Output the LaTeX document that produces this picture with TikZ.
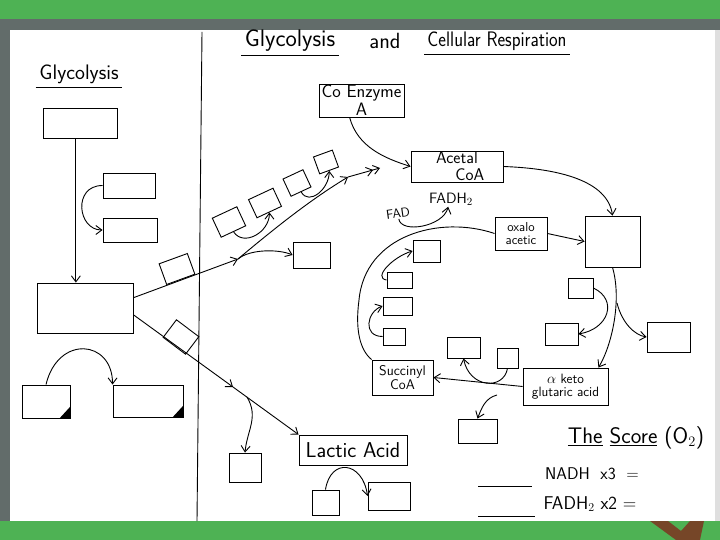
\documentclass[tikz,border=0pt]{standalone}
\usepackage{tikz}
\usetikzlibrary{arrows.meta}
\usetikzlibrary{calc}

\definecolor{leaf}{RGB}{78,178,84}
\definecolor{paperedge}{RGB}{98,108,106}
\definecolor{skin}{RGB}{118,70,40}

\begin{document}
\begin{tikzpicture}[x=1pt, y=-1pt, line width=0.9pt,
  >={Straight Barb[length=6pt,width=9pt]},
  box/.style={draw, inner sep=1pt, align=center, font=\sffamily\fontsize{11}{12}\selectfont},
  hand/.style={font=\sffamily\fontsize{#1}{#1}\selectfont}]
\useasboundingbox (0,0) rectangle (720,540);
\fill[leaf] (0,0) rectangle (720,540);
\fill[paperedge] (0,19) rectangle (720,30);
\fill[paperedge] (0,19) rectangle (10,521);
\fill[white] (10,30) rectangle (720,521);
\fill[gray!25] (715,30) rectangle (720,521);
\fill[skin] (650,521) -- (668,521) -- (681,531) -- (690,521) -- (704,521) -- (700,540) -- (676,540) -- cycle;
\draw (202,32) -- (197,521);

\node[hand=24] (head1) at (290,41) {Glycolysis};
\node[hand=22] (head2) at (385,41) {and};
\node[hand=21, xscale=0.87] (head3) at (497,41) {Cellular Respiration};
\draw (head1.south west) -- (head1.south east);
\draw (head3.south west) -- (head3.south east);
\node[hand=21] (gly) at (79,74) {Glycolysis};
\draw (gly.south west) -- (gly.south east);

\node[box, minimum width=74pt, minimum height=30pt] (g1) at (80,123) {};
\node[box, minimum width=52pt, minimum height=25pt] (g2) at (129,185.5) {};
\node[box, minimum width=54pt, minimum height=24pt] (g3) at (130,230) {};
\node[box, minimum width=96pt, minimum height=50pt] (pyr) at (85,308) {};
\node[box, minimum width=48pt, minimum height=33pt] (l1) at (46,401.5) {};
\node[box, minimum width=70pt, minimum height=32pt] (l2) at (148,401) {};
\fill (l1.south east) -- ++(-11,0) -- ++(11,-12) -- cycle;
\fill (l2.south east) -- ++(-11,0) -- ++(11,-12) -- cycle;

\node[box, minimum width=30pt, minimum height=22pt, rotate=20] (t1) at (177,269) {};
\node[box, minimum width=28pt, minimum height=22pt, rotate=-37] (t2) at (181,337) {};
\node[box, minimum width=27pt, minimum height=21pt, rotate=25] (a1) at (229,222) {};
\node[box, minimum width=27pt, minimum height=20pt, rotate=25] (a2) at (265,203) {};
\node[box, minimum width=22pt, minimum height=19pt, rotate=25] (a3) at (297,183) {};
\node[box, minimum width=20pt, minimum height=18pt, rotate=20] (a4) at (326,162) {};
\node[box, minimum width=37pt, minimum height=26pt] (b1) at (311.5,255) {};

\node[box, hand=18, minimum width=85pt, minimum height=33pt] (coa) at (361.5,100.5) {Co Enzyme\\A};
\node[box, hand=17, minimum width=92pt, minimum height=29pt] (acet) at (457,166.5) {Acetal\\\hspace{1.5em}CoA};
\node[box, minimum width=55pt, minimum height=51pt] (k1) at (612.5,241.5) {};
\node[box, hand=13, minimum width=52pt, minimum height=33pt] (oxa) at (521,233.5) {oxalo\\acetic};
\node[box, minimum width=27pt, minimum height=22pt] (c1) at (426.5,251) {};
\node[box, minimum width=25pt, minimum height=16pt] (c2) at (399.5,280) {};
\node[box, minimum width=29pt, minimum height=18pt] (c3) at (397.5,306) {};
\node[box, minimum width=22pt, minimum height=17pt] (c4) at (394,336.5) {};
\node[box, hand=14, minimum width=61pt, minimum height=35pt] (succ) at (402.5,377.5) {Succinyl\\CoA};
\node[box, hand=13.5, minimum width=85pt, minimum height=37pt] (akg) at (565.5,386.5) {$\alpha$ keto\\glutaric acid};
\node[box, minimum width=25pt, minimum height=20pt] (k2) at (580.5,288) {};
\node[box, minimum width=33pt, minimum height=22pt] (k3) at (561.5,334) {};
\node[box, minimum width=43pt, minimum height=30pt] (k4) at (668.5,337) {};
\node[box, minimum width=33pt, minimum height=21pt] (m1) at (463.5,347.5) {};
\node[box, minimum width=21pt, minimum height=20pt] (m2) at (507.5,358) {};
\node[box, minimum width=39pt, minimum height=24pt] (n1) at (477.5,431) {};
\node[hand=13, rotate=8, inner sep=1pt] (fad) at (398,213) {FAD};
\node[hand=15, inner sep=1pt] (fadh) at (451,199) {FADH$_2$};

\node[box, hand=21.5, minimum width=108pt, minimum height=30pt] (lactic) at (353,450) {Lactic Acid};
\node[box, minimum width=32pt, minimum height=29pt] (p1) at (245,467.5) {};
\node[box, minimum width=27pt, minimum height=25pt] (p2) at (325.5,502.5) {};
\node[box, minimum width=42pt, minimum height=28pt] (p3) at (389,496) {};

\coordinate (hub) at (238,259);
\coordinate (fork) at (348,177);
\coordinate (into) at (380,168);
\coordinate (lmid) at (233,387);
\coordinate (lbr) at (247,397);
\coordinate (arcw) at (359,300);
\coordinate (kb) at (617,303);
\coordinate (nb) at (497,395);

\draw[->] (g1.-105) -- (g1.-105 |- pyr.north);
\draw[->] (g2.west) .. controls +(-30,0) and +(-25,0) .. (g3.west);
\draw[->] (l1.north) .. controls +(12,-50) and +(0,-45) .. (l2.north west);

\draw[->] (pyr.12) -- (hub);
\draw[->] (hub) .. controls (275,228) and (310,200) .. (fork);
\draw[-{Straight Barb[length=6pt,width=9pt]Straight Barb[length=6pt,width=9pt]}] (fork) -- (into);
\draw[->] (hub) .. controls +(12,-10) and +(-14,-6) .. (b1.west);
\draw[->] (a1.south) .. controls +(10,15) and +(0,20) .. (a2.south);
\draw[->] (a3.south) .. controls +(8,14) and +(0,18) .. (a4.south);

\draw[->] (pyr.-8) -- (lmid);
\draw[->] (lmid) -- (lactic.north west);
\draw[->] (lbr) .. controls +(12,20) and +(2,-22) .. (p1.north);
\draw[->] (p2.north) .. controls +(5,-32) and +(-5,-35) .. (p3.west);

\draw[->] (coa.-125) .. controls +(8,30) and +(-25,-8) .. (acet.west);
\draw[->] (acet.east) .. controls +(55,2) and +(-5,-35) .. (k1.north);
\draw[->] (oxa.east) -- (k1.west);
\draw (oxa.west) .. controls (440,215) and (365,235) .. (arcw) .. controls (355,330) and (360,350) .. (succ.north west);
\draw[->] (fad.south) .. controls +(2,15) and +(-5,20) .. (fadh.-110);
\draw[->] (c2.west) .. controls +(-14,-2) and +(-20,6) .. (c1.west);
\draw[->] (c4.west) .. controls +(-20,0) and +(-16,6) .. (c3.west);

\draw[->] (k1.south) .. controls (622,300) and (612,345) .. ($(akg.north east)+(-10,0)$);
\draw[->] (kb) .. controls +(5,20) and +(-12,-2) .. (k4.west);
\draw[->] (k2.east) .. controls +(25,12) and +(30,-5) .. (k3.east);
\draw[->] (akg.west) -- (succ.east);
\draw[->] (m2.south) .. controls +(-4,22) and +(6,30) .. (m1.south);
\draw[->] (nb) .. controls +(-12,3) and +(4,-10) .. (n1.north);

\node[hand=22.5] (score) at (636,438) {\underline{The} \underline{Score} (O$_2$)};
\node[hand=17] (nadh) at (592,474) {NADH\ \ x3\ \ =};
\node[hand=18.5] (fadhs) at (590,504) {FADH$_2$ x2 =};
\draw (478,486) -- (532,486);
\draw (478,516) -- (535,516);
\end{tikzpicture}
\end{document}
